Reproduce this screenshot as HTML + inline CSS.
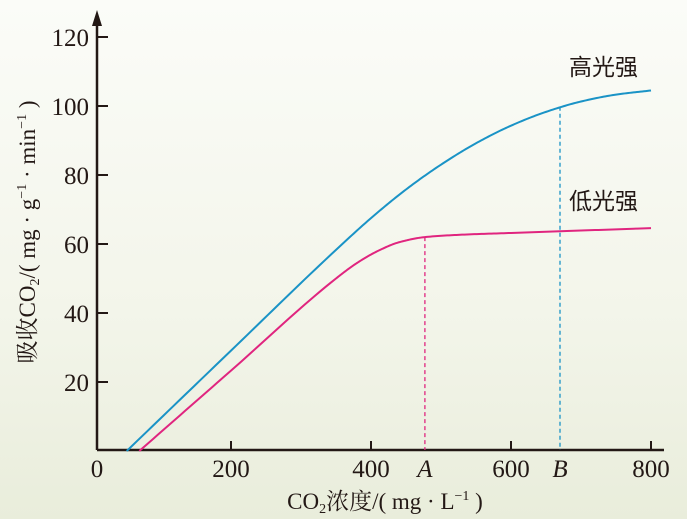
<!DOCTYPE html>
<html><head><meta charset="utf-8"><style>
body{margin:0;width:687px;height:519px;overflow:hidden;background:linear-gradient(180deg,#fbfcf8 0%,#f3f5ea 60%,#e9eddb 100%);}
svg{display:block}
text{font-family:"Liberation Serif","Noto Serif CJK SC",serif;fill:#231815}
</style></head><body>
<svg id="chart" width="687" height="519"></svg>
<script>
const xTicks=[0,200,400,600,800];
const yTicks=[20,40,60,80,100,120];
const highX=[51,200,350,400,450,500,550,600,650,700,750,800];
const highY=[0,29.1,58.3,67.5,75.8,83,89.2,94.3,98.3,101.3,103.3,104.5];
const lowX=[69,200,350,380,410,440,477,530,600,700,800];
const lowY=[0,23.3,50,54.5,58,60.5,62,62.7,63.2,63.9,64.6];
const markA=[477,62];
const markB=[670,99.8];
const NS="http://www.w3.org/2000/svg";
const svg=document.getElementById('chart');
const X=v=>91+0.7*v, Y=v=>451-3.45*v;
function el(t,a,p){const e=document.createElementNS(NS,t);for(const k in a)e.setAttribute(k,a[k]);(p||svg).appendChild(e);return e;}
let e;
e=el('line',{x1:97,y1:450,x2:664,y2:450,stroke:'#231815','stroke-width':2.5});


e=el('line',{x1:97,y1:450,x2:97,y2:22,stroke:'#231815','stroke-width':2.5});


e=el('polygon',{points:'97,10 92,26 102,26',fill:'#231815'});


xTicks.forEach(v=>{
  if(v>0){e=el('line',{x1:X(v),y1:450,x2:X(v),y2:441,stroke:'#231815','stroke-width':2});
  
  }
  e=el('text',{x:v===0?97:X(v),y:477,'text-anchor':'middle','font-size':25});e.textContent=v;
  
  
});
yTicks.forEach(v=>{
  e=el('line',{x1:97,y1:Y(v),x2:108,y2:Y(v),stroke:'#231815','stroke-width':2});
  
  
  e=el('text',{x:89,y:Y(v)+9,'text-anchor':'end','font-size':25});e.textContent=v;
  
  
});
function curve(xs,ys){
 const n=xs.length,d=[],m=[];
 for(let i=0;i<n-1;i++)d.push((ys[i+1]-ys[i])/(xs[i+1]-xs[i]));
 m[0]=d[0];m[n-1]=d[n-2];
 for(let i=1;i<n-1;i++){
  if(d[i-1]*d[i]<=0)m[i]=0;
  else{const h0=xs[i]-xs[i-1],h1=xs[i+1]-xs[i];const w1=2*h1+h0,w2=h1+2*h0;m[i]=(w1+w2)/(w1/d[i-1]+w2/d[i]);}
 }
 let p='M'+X(xs[0])+','+Y(ys[0]);
 for(let i=0;i<n-1;i++){
  const h=xs[i+1]-xs[i];
  for(let s=1;s<=20;s++){
   const t=s/20,t2=t*t,t3=t2*t;
   const v=(2*t3-3*t2+1)*ys[i]+(t3-2*t2+t)*h*m[i]+(-2*t3+3*t2)*ys[i+1]+(t3-t2)*h*m[i+1];
   p+=' L'+X(xs[i]+t*h).toFixed(2)+','+Y(v).toFixed(2);
  }
 }
 return p;}
e=el('line',{x1:X(markA[0]),y1:Y(markA[1]),x2:X(markA[0]),y2:450,stroke:'#e0257f','stroke-width':1.3,'stroke-dasharray':'4,3'});


e=el('line',{x1:X(markB[0]),y1:Y(markB[1]),x2:X(markB[0]),y2:450,stroke:'#1a93c6','stroke-width':1.3,'stroke-dasharray':'4,3'});


e=el('path',{d:curve(highX,highY),fill:'none',stroke:'#1a93c6','stroke-width':2,'stroke-linejoin':'round'});


e=el('path',{d:curve(lowX,lowY),fill:'none',stroke:'#e0257f','stroke-width':2,'stroke-linejoin':'round'});


e=el('text',{x:X(markA[0]),y:477,'text-anchor':'middle','font-size':25,'font-style':'italic'});e.textContent='A';


e=el('text',{x:X(markB[0]),y:477,'text-anchor':'middle','font-size':25,'font-style':'italic'});e.textContent='B';


e=el('text',{x:569,y:75,'font-size':23,style:'font-family:"Noto Sans CJK SC",sans-serif'});e.textContent='高光强';


e=el('text',{x:569,y:209,'font-size':23,style:'font-family:"Noto Sans CJK SC",sans-serif'});e.textContent='低光强';


e=el('text',{x:385,y:509,'text-anchor':'middle','font-size':23});
e.innerHTML='CO<tspan font-size="14" dy="4">2</tspan><tspan dy="-4">浓度/( mg · L</tspan><tspan font-size="14" dy="-9">−1</tspan><tspan dy="9"> )</tspan>';


e=el('text',{x:0,y:0,'text-anchor':'middle','font-size':23,transform:'translate(35,232) rotate(-90)'});
e.innerHTML='吸收CO<tspan font-size="14" dy="4">2</tspan><tspan dy="-4">/( mg · g</tspan><tspan font-size="14" dy="-9">−1</tspan><tspan dy="9"> · min</tspan><tspan font-size="14" dy="-9">−1</tspan><tspan dy="9"> )</tspan>';


</script>
</body></html>
